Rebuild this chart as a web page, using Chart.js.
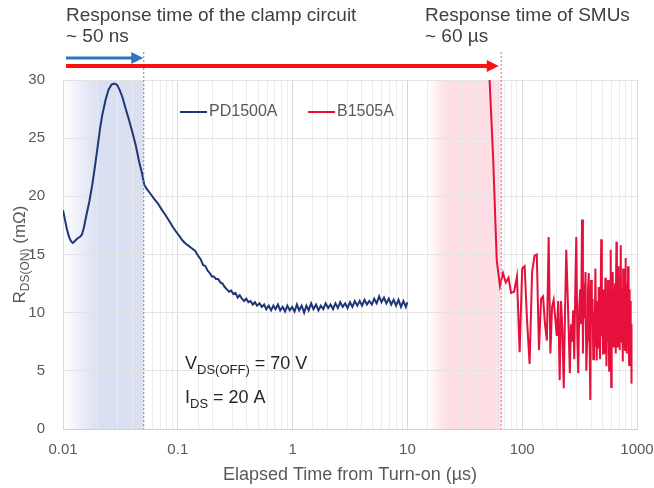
<!DOCTYPE html>
<html>
<head>
<meta charset="utf-8">
<script src="https://cdn.jsdelivr.net/npm/chart.js@4"></script>
<style>
  html, body { margin: 0; padding: 0; background: #fff; }
  #wrap { width: 654px; height: 488px; }
</style>
</head>
<body>
<div id="wrap"><canvas id="rdsChart" width="654" height="488"></canvas></div>
<script>
// PD1500A trace (time in us, Rds(on) in mOhm)
const pdTime = [
  0.0100, 0.0104, 0.0108, 0.0113, 0.0118, 0.0122, 0.0128, 0.0134, 0.0140, 0.0146,
  0.0152, 0.0160, 0.0170, 0.0180, 0.0190, 0.0200, 0.0210, 0.0220, 0.0235, 0.0250,
  0.0265, 0.0280, 0.0295, 0.0310, 0.0330, 0.0350, 0.0375, 0.0400, 0.0430, 0.0460,
  0.0490, 0.0510, 0.0540, 0.0580, 0.0620, 0.0670, 0.0720, 0.0780, 0.0840, 0.0900,
  0.0960, 0.1030, 0.1100, 0.1180, 0.1260, 0.1340, 0.1420, 0.1500, 0.1580, 0.1660,
  0.1740, 0.1820, 0.1900, 0.1980, 0.2060, 0.2150, 0.2250, 0.2350, 0.2450, 0.2560,
  0.2680, 0.2800, 0.2920, 0.3050, 0.3180, 0.3320, 0.3460, 0.3620, 0.3780, 0.3950,
  0.4120, 0.4300, 0.4500, 0.4700, 0.4900, 0.5150, 0.5400, 0.5650, 0.5900, 0.6200,
  0.6500, 0.6800, 0.7100, 0.7450, 0.7800, 0.8200, 0.8600, 0.9000, 0.9450, 0.9900,
  1.04, 1.09, 1.14, 1.20, 1.26, 1.32, 1.38, 1.45, 1.52, 1.60,
  1.68, 1.76, 1.85, 1.94, 2.04, 2.14, 2.25, 2.36, 2.48, 2.60,
  2.73, 2.87, 3.01, 3.16, 3.32, 3.48, 3.66, 3.84, 4.03, 4.23,
  4.44, 4.66, 4.90, 5.14, 5.40, 5.67, 5.95, 6.25, 6.56, 6.89,
  7.23, 7.59, 7.97, 8.37, 8.79, 9.23, 9.69, 10.0
];
const pdRds = [
  18.8, 18.0, 17.2, 16.5, 16.1, 16.0, 16.2, 16.4, 16.5, 16.7,
  17.3, 18.4, 19.6, 21.0, 22.6, 24.2, 25.8, 27.0, 28.3, 29.2,
  29.6, 29.7, 29.6, 29.2, 28.5, 27.6, 26.6, 25.6, 24.4, 23.0,
  21.9, 21.0, 20.6, 20.2, 19.8, 19.4, 18.9, 18.4, 17.9, 17.4,
  17.0, 16.6, 16.2, 15.9, 15.7, 15.5, 15.3, 14.9, 14.6, 14.1,
  14.0, 13.6, 13.4, 13.1, 13.1, 12.9, 12.9, 12.6, 12.5, 12.2,
  12.0, 11.8, 11.9, 11.6, 11.7, 11.3, 11.5, 11.2, 11.0, 11.2,
  10.9, 11.0, 10.7, 10.9, 10.6, 10.8, 10.5, 10.7, 10.3, 10.6,
  10.2, 10.6, 10.3, 10.7, 10.2, 10.5, 10.1, 10.6, 10.2, 10.5,
  10.1, 10.7, 10.2, 10.6, 10.0, 10.6, 10.2, 10.8, 10.3, 10.7,
  10.2, 10.6, 10.3, 10.8, 10.4, 10.7, 10.3, 10.8, 10.4, 10.9,
  10.5, 10.8, 10.4, 10.9, 10.5, 11.0, 10.6, 11.0, 10.6, 11.1,
  10.7, 11.0, 10.7, 11.2, 10.8, 11.4, 10.9, 11.3, 10.8, 11.2,
  10.7, 11.1, 10.6, 11.1, 10.5, 11.0, 10.5, 10.9
];

// B1505A trace
const smuTime = [
  52, 56, 60, 64, 68, 72, 76, 80, 85, 90,
  95, 100, 105, 110, 116, 122, 128, 134, 140, 146,
  152, 158, 164, 170, 176, 182, 188, 194, 200, 206,
  212, 218, 224, 230, 236, 242, 248, 254, 260, 266,
  272, 278, 284, 290, 296, 302, 308, 314, 320, 326,
  332, 338, 344, 350, 356, 362, 368, 374, 380, 386,
  392, 398, 404, 410, 416, 422, 428, 434, 440, 446,
  452, 458, 464, 470, 476, 482, 488, 494, 500, 506,
  512, 518, 524, 530, 536, 542, 548, 554, 560, 566,
  572, 578, 584, 590, 596, 602, 608, 614, 620, 626,
  632, 638, 644, 650, 656, 662, 668, 674, 680, 686,
  692, 698, 704, 710, 716, 722, 728, 734, 740, 746,
  752, 758, 764, 770, 776, 782, 788, 794, 800, 806,
  812, 818, 824, 830, 836, 842, 848, 854, 860, 866,
  872, 878, 884, 890, 896
];
const smuRds = [
  30.0, 23.0, 14.5, 12.3, 13.4, 12.6, 13.0, 11.7, 11.8, 13.1,
  6.6, 13.8, 14.0, 9.5, 5.6, 13.5, 14.9, 15.0, 6.8, 11.2,
  11.4, 9.0, 7.6, 16.5, 6.5, 10.5, 11.1, 9.5, 8.0, 11.0,
  4.2, 11.0, 8.5, 3.5, 10.0, 15.4, 12.0, 8.5, 4.8, 9.0,
  7.5, 10.2, 6.0, 12.0, 16.5, 8.0, 4.8, 10.5, 12.0, 9.0,
  18.0, 6.5, 12.5, 9.5, 13.5, 5.0, 7.6, 12.0, 13.4, 8.0,
  2.5, 12.8, 9.0, 11.2, 6.0, 10.0, 7.1, 13.8, 8.5, 5.9,
  11.0, 7.0, 12.2, 9.0, 6.0, 10.5, 16.3, 8.0, 11.4, 6.5,
  12.0, 8.0, 6.5, 13.0, 10.0, 5.4, 11.0, 7.5, 12.8, 9.0,
  5.0, 12.0, 9.5, 15.4, 3.6, 11.0, 8.0, 13.5, 10.5, 7.0,
  11.5, 9.0, 12.5, 6.5, 10.0, 16.1, 8.5, 12.0, 7.0, 14.0,
  9.5, 11.5, 6.8, 13.0, 9.0, 15.8, 7.5, 12.0, 8.5, 10.5,
  5.8, 13.8, 9.0, 11.0, 7.0, 12.0, 6.8, 14.7, 10.0, 8.0,
  12.5, 6.5, 11.0, 9.0, 14.0, 7.5, 10.5, 5.5, 12.0, 8.0,
  9.5, 11.0, 6.0, 9.0, 3.9
];

const xTickLabels = [0.01, 0.1, 1, 10, 100, 1000];
const clampBand = [0.01, 0.02, 0.05]; // fade start, solid start, response time
const smuBand = [15, 22, 65];

const FONT = "'Liberation Sans', Arial, sans-serif";
const BLUE = "#1f3676";
const RED = "#e5103b";

function isDecade(v) {
  const l = Math.log10(v);
  return Math.abs(l - Math.round(l)) < 1e-6;
}

// draw text with subscript parts
function drawRich(ctx, parts, x, y) {
  let cx = x;
  parts.forEach((p) => {
    ctx.font = p.size + "px " + FONT;
    ctx.fillText(p.t, cx, y + (p.dy || 0));
    cx += ctx.measureText(p.t).width;
  });
  return cx - x;
}
function richWidth(ctx, parts) {
  let w = 0;
  parts.forEach((p) => {
    ctx.font = p.size + "px " + FONT;
    w += ctx.measureText(p.t).width;
  });
  return w;
}

const shadePlugin = {
  id: "shadeBands",
  beforeDraw(chart) {
    const { ctx, chartArea: a, scales } = chart;
    const x = scales.x;
    ctx.save();
    // clamp circuit band
    let x0 = x.getPixelForValue(clampBand[0]);
    let x1 = x.getPixelForValue(clampBand[1]);
    let x2 = x.getPixelForValue(clampBand[2]);
    let g = ctx.createLinearGradient(x0, 0, x1, 0);
    g.addColorStop(0, "rgba(218,224,241,0)");
    g.addColorStop(1, "rgba(218,224,241,1)");
    ctx.fillStyle = g;
    ctx.fillRect(x0, a.top, x1 - x0, a.bottom - a.top);
    ctx.fillStyle = "rgb(218,224,241)";
    ctx.fillRect(x1, a.top, x2 - x1, a.bottom - a.top);
    // SMU band
    x0 = x.getPixelForValue(smuBand[0]);
    x1 = x.getPixelForValue(smuBand[1]);
    x2 = x.getPixelForValue(smuBand[2]);
    g = ctx.createLinearGradient(x0, 0, x1, 0);
    g.addColorStop(0, "rgba(253,222,228,0)");
    g.addColorStop(1, "rgba(253,222,228,1)");
    ctx.fillStyle = g;
    ctx.fillRect(x0, a.top, x1 - x0, a.bottom - a.top);
    ctx.fillStyle = "rgb(253,222,228)";
    ctx.fillRect(x1, a.top, x2 - x1, a.bottom - a.top);
    ctx.restore();
  },
  afterDraw(chart) {
    const { ctx, chartArea: a, scales } = chart;
    const x = scales.x;
    const xClamp = x.getPixelForValue(clampBand[2]);
    const xSmu = x.getPixelForValue(smuBand[2]);
    ctx.save();

    // dotted markers
    ctx.lineWidth = 1;
    ctx.setLineDash([2, 2]);
    ctx.strokeStyle = "#4a90d9";
    ctx.beginPath();
    ctx.moveTo(xClamp + 0.5, 52);
    ctx.lineTo(xClamp + 0.5, a.bottom);
    ctx.stroke();
    ctx.strokeStyle = "#f2607c";
    ctx.beginPath();
    ctx.moveTo(xSmu + 0.5, 52);
    ctx.lineTo(xSmu + 0.5, a.bottom);
    ctx.stroke();
    ctx.setLineDash([]);

    // arrows
    function arrow(x0, x1, y, w, color) {
      ctx.strokeStyle = color;
      ctx.fillStyle = color;
      ctx.lineWidth = w;
      ctx.beginPath();
      ctx.moveTo(x0, y);
      ctx.lineTo(x1 - 9, y);
      ctx.stroke();
      ctx.beginPath();
      ctx.moveTo(x1, y);
      ctx.lineTo(x1 - 12, y - 6);
      ctx.lineTo(x1 - 12, y + 6);
      ctx.closePath();
      ctx.fill();
    }
    arrow(a.left + 3, xClamp, 58, 3, "#2e75c6");
    arrow(a.left + 3, xSmu - 2, 66, 4, "#ff1010");

    // header texts
    ctx.fillStyle = "#404040";
    ctx.textBaseline = "alphabetic";
    ctx.textAlign = "left";
    ctx.font = "19px " + FONT;
    ctx.fillText("Response time of the clamp circuit", 66, 21);
    ctx.fillText("~ 50 ns", 66, 42);
    ctx.fillText("Response time of SMUs", 425, 21);
    ctx.fillText("~ 60 \u00b5s", 425, 42);

    // legend
    ctx.lineWidth = 2;
    ctx.strokeStyle = BLUE;
    ctx.beginPath(); ctx.moveTo(180, 112); ctx.lineTo(207, 112); ctx.stroke();
    ctx.strokeStyle = RED;
    ctx.beginPath(); ctx.moveTo(308, 112); ctx.lineTo(335, 112); ctx.stroke();
    ctx.fillStyle = "#595959";
    ctx.font = "16px " + FONT;
    ctx.textBaseline = "middle";
    ctx.fillText("PD1500A", 209, 112);
    ctx.fillText("B1505A", 337, 112);

    // x axis title
    ctx.textBaseline = "alphabetic";
    ctx.textAlign = "center";
    ctx.font = "18px " + FONT;
    ctx.fillText("Elapsed Time from Turn-on (\u00b5s)", (a.left + a.right) / 2, 480);
    ctx.textAlign = "left";

    // test conditions
    ctx.fillStyle = "#262626";
    drawRich(ctx, [
      { t: "V", size: 18 },
      { t: "DS(OFF)", size: 13, dy: 5 },
      { t: " = 70 V", size: 18 }
    ], 185, 369);
    drawRich(ctx, [
      { t: "I", size: 18 },
      { t: "DS", size: 13, dy: 5 },
      { t: " = 20 A", size: 18 }
    ], 185, 403);

    // y axis title
    const yParts = [
      { t: "R", size: 17 },
      { t: "DS(ON)", size: 12, dy: 4 },
      { t: " (m\u03a9)", size: 17 }
    ];
    ctx.fillStyle = "#595959";
    ctx.translate(25, (a.top + a.bottom) / 2);
    ctx.rotate(-Math.PI / 2);
    drawRich(ctx, yParts, -richWidth(ctx, yParts) / 2, 0);
    ctx.restore();
  }
};

const ctx = document.getElementById("rdsChart").getContext("2d");

new Chart(ctx, {
  type: "line",
  data: {
    datasets: [
      {
        label: "PD1500A",
        data: pdTime.map((t, i) => ({ x: t, y: pdRds[i] })),
        borderColor: BLUE,
        borderWidth: 2,
        pointRadius: 0,
        tension: 0,
      },
      {
        label: "B1505A",
        data: smuTime.map((t, i) => ({ x: t, y: smuRds[i] })),
        borderColor: RED,
        borderWidth: 2,
        pointRadius: 0,
        tension: 0,
      },
    ],
  },
  options: {
    responsive: false,
    animation: false,
    layout: { padding: { top: 80, right: 17, left: 0, bottom: 0 } },
    plugins: {
      legend: { display: false },
      tooltip: { enabled: false },
    },
    scales: {
      x: {
        type: "logarithmic",
        min: 0.01,
        max: 1000,
        afterFit: (scale) => {
          scale.height = 59;
          scale.paddingLeft = 0;
          scale.paddingRight = 0;
        },
        border: { color: "#d0d0d0" },
        grid: {
          drawTicks: false,
          color: (c) => (c.tick && isDecade(c.tick.value) ? "#d9d9d9" : "#ececec"),
        },
        ticks: {
          autoSkip: false,
          maxRotation: 0,
          padding: 12,
          color: "#595959",
          font: { family: FONT, size: 15 },
          callback: (v) => {
            const t = xTickLabels.find((d) => Math.abs(d - v) / d < 1e-6);
            return t === undefined ? "" : String(t);
          },
        },
      },
      y: {
        min: 0,
        max: 30,
        afterFit: (scale) => { scale.width = 63; },
        border: { display: false },
        grid: { drawTicks: false, color: "#e3e3e3" },
        ticks: {
          stepSize: 5,
          padding: 18,
          color: "#595959",
          font: { family: FONT, size: 15 },
        },
      },
    },
  },
  plugins: [shadePlugin],
});
</script>
</body>
</html>
